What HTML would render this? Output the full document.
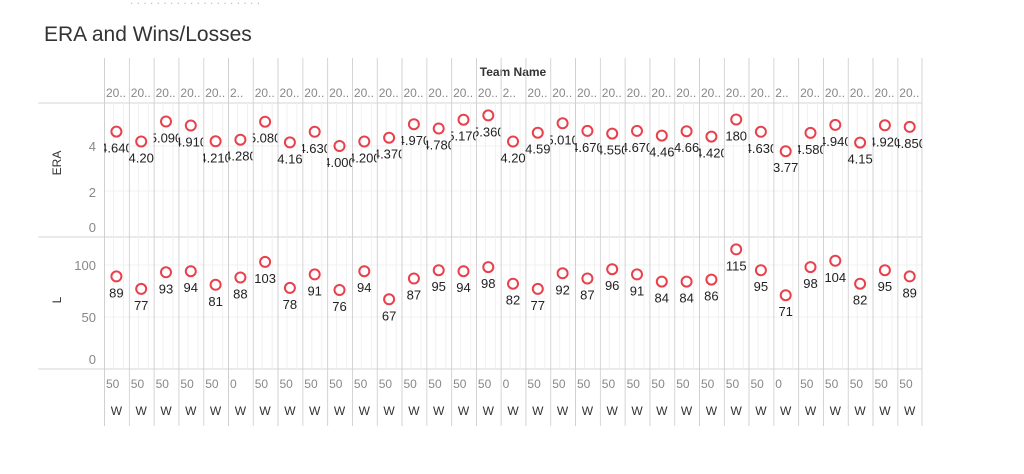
<!DOCTYPE html><html><head><style>body{margin:0;background:#fff}svg{display:block}</style></head><body>
<svg width="1024" height="474" xmlns="http://www.w3.org/2000/svg" font-family="Liberation Sans, sans-serif">
<text x="130" y="4" font-size="12" fill="#bbb">. . . . .  . .  . .  .  . . . .  . . .  . . .</text>
<text x="44" y="41" font-size="21" fill="#333">ERA and Wins/Losses</text>
<text x="513" y="76" font-size="12" font-weight="bold" fill="#333" text-anchor="middle">Team Name</text>
<g stroke="#f0f0f0"><line x1="104" y1="191" x2="922" y2="191"/><line x1="104" y1="146" x2="922" y2="146"/><line x1="104" y1="317" x2="922" y2="317"/><line x1="104" y1="265" x2="922" y2="265"/></g>
<g stroke="#d4d4d4"><line x1="38" y1="103" x2="922" y2="103"/><line x1="38" y1="237" x2="922" y2="237"/><line x1="38" y1="369" x2="922" y2="369"/><line x1="922" y1="58" x2="922" y2="426"/></g>
<text font-size="13" fill="#888" text-anchor="end"><tspan x="96" y="151">4</tspan><tspan x="96" y="197">2</tspan><tspan x="96" y="232">0</tspan><tspan x="96" y="270">100</tspan><tspan x="96" y="322">50</tspan><tspan x="96" y="364">0</tspan></text>
<text transform="translate(61,163) rotate(-90)" font-size="12" fill="#333" text-anchor="middle">ERA</text>
<text transform="translate(61,300) rotate(-90)" font-size="12" fill="#333" text-anchor="middle">L</text>
<defs><g id="c"><line x1="0.5" y1="58" x2="0.5" y2="426" stroke="#d0d0d0"/><line x1="9.5" y1="103" x2="9.5" y2="369" stroke="#f0f0f0"/><line x1="19.5" y1="103" x2="19.5" y2="369" stroke="#f0f0f0"/><text x="12.4" y="415" font-size="12" fill="#333" text-anchor="middle">W</text></g></defs>
<g font-size="13" fill="#222" text-anchor="middle">
<svg x="104" width="24.8" height="474"><use href="#c"/><text x="2" y="97" font-size="12" fill="#888" text-anchor="start">20..</text><text x="2" y="388" font-size="12" fill="#888" text-anchor="start">50</text><circle cx="12.4" cy="131.6" r="5" fill="none" stroke="#e8404d" stroke-width="2"/><text x="12.4" y="152.6">4.640</text><circle cx="12.4" cy="276.4" r="5" fill="none" stroke="#e8404d" stroke-width="2"/><text x="12.4" y="297.4">89</text></svg>
<svg x="128.8" width="24.8" height="474"><use href="#c"/><text x="2" y="97" font-size="12" fill="#888" text-anchor="start">20..</text><text x="2" y="388" font-size="12" fill="#888" text-anchor="start">50</text><circle cx="12.4" cy="141.5" r="5" fill="none" stroke="#e8404d" stroke-width="2"/><text x="12.4" y="162.5">4.20</text><circle cx="12.4" cy="288.9" r="5" fill="none" stroke="#e8404d" stroke-width="2"/><text x="12.4" y="309.9">77</text></svg>
<svg x="153.6" width="24.8" height="474"><use href="#c"/><text x="2" y="97" font-size="12" fill="#888" text-anchor="start">20..</text><text x="2" y="388" font-size="12" fill="#888" text-anchor="start">50</text><circle cx="12.4" cy="121.5" r="5" fill="none" stroke="#e8404d" stroke-width="2"/><text x="12.4" y="142.5">5.090</text><circle cx="12.4" cy="272.3" r="5" fill="none" stroke="#e8404d" stroke-width="2"/><text x="12.4" y="293.3">93</text></svg>
<svg x="178.4" width="24.8" height="474"><use href="#c"/><text x="2" y="97" font-size="12" fill="#888" text-anchor="start">20..</text><text x="2" y="388" font-size="12" fill="#888" text-anchor="start">50</text><circle cx="12.4" cy="125.5" r="5" fill="none" stroke="#e8404d" stroke-width="2"/><text x="12.4" y="146.5">4.910</text><circle cx="12.4" cy="271.2" r="5" fill="none" stroke="#e8404d" stroke-width="2"/><text x="12.4" y="292.2">94</text></svg>
<svg x="203.2" width="24.8" height="474"><use href="#c"/><text x="2" y="97" font-size="12" fill="#888" text-anchor="start">20..</text><text x="2" y="388" font-size="12" fill="#888" text-anchor="start">50</text><circle cx="12.4" cy="141.3" r="5" fill="none" stroke="#e8404d" stroke-width="2"/><text x="12.4" y="162.3">4.210</text><circle cx="12.4" cy="284.8" r="5" fill="none" stroke="#e8404d" stroke-width="2"/><text x="12.4" y="305.8">81</text></svg>
<svg x="228" width="24.8" height="474"><use href="#c"/><text x="2" y="97" font-size="12" fill="#888" text-anchor="start">2..</text><text x="2" y="388" font-size="12" fill="#888" text-anchor="start">0</text><circle cx="12.4" cy="139.7" r="5" fill="none" stroke="#e8404d" stroke-width="2"/><text x="12.4" y="160.7">4.280</text><circle cx="12.4" cy="277.5" r="5" fill="none" stroke="#e8404d" stroke-width="2"/><text x="12.4" y="298.5">88</text></svg>
<svg x="252.7" width="24.8" height="474"><use href="#c"/><text x="2" y="97" font-size="12" fill="#888" text-anchor="start">20..</text><text x="2" y="388" font-size="12" fill="#888" text-anchor="start">50</text><circle cx="12.4" cy="121.7" r="5" fill="none" stroke="#e8404d" stroke-width="2"/><text x="12.4" y="142.7">5.080</text><circle cx="12.4" cy="261.9" r="5" fill="none" stroke="#e8404d" stroke-width="2"/><text x="12.4" y="282.9">103</text></svg>
<svg x="277.5" width="24.8" height="474"><use href="#c"/><text x="2" y="97" font-size="12" fill="#888" text-anchor="start">20..</text><text x="2" y="388" font-size="12" fill="#888" text-anchor="start">50</text><circle cx="12.4" cy="142.4" r="5" fill="none" stroke="#e8404d" stroke-width="2"/><text x="12.4" y="163.4">4.16</text><circle cx="12.4" cy="287.9" r="5" fill="none" stroke="#e8404d" stroke-width="2"/><text x="12.4" y="308.9">78</text></svg>
<svg x="302.3" width="24.8" height="474"><use href="#c"/><text x="2" y="97" font-size="12" fill="#888" text-anchor="start">20..</text><text x="2" y="388" font-size="12" fill="#888" text-anchor="start">50</text><circle cx="12.4" cy="131.8" r="5" fill="none" stroke="#e8404d" stroke-width="2"/><text x="12.4" y="152.8">4.630</text><circle cx="12.4" cy="274.4" r="5" fill="none" stroke="#e8404d" stroke-width="2"/><text x="12.4" y="295.4">91</text></svg>
<svg x="327.1" width="24.8" height="474"><use href="#c"/><text x="2" y="97" font-size="12" fill="#888" text-anchor="start">20..</text><text x="2" y="388" font-size="12" fill="#888" text-anchor="start">50</text><circle cx="12.4" cy="146" r="5" fill="none" stroke="#e8404d" stroke-width="2"/><text x="12.4" y="167">4.000</text><circle cx="12.4" cy="290" r="5" fill="none" stroke="#e8404d" stroke-width="2"/><text x="12.4" y="311">76</text></svg>
<svg x="351.9" width="24.8" height="474"><use href="#c"/><text x="2" y="97" font-size="12" fill="#888" text-anchor="start">20..</text><text x="2" y="388" font-size="12" fill="#888" text-anchor="start">50</text><circle cx="12.4" cy="141.5" r="5" fill="none" stroke="#e8404d" stroke-width="2"/><text x="12.4" y="162.5">4.200</text><circle cx="12.4" cy="271.2" r="5" fill="none" stroke="#e8404d" stroke-width="2"/><text x="12.4" y="292.2">94</text></svg>
<svg x="376.7" width="24.8" height="474"><use href="#c"/><text x="2" y="97" font-size="12" fill="#888" text-anchor="start">20..</text><text x="2" y="388" font-size="12" fill="#888" text-anchor="start">50</text><circle cx="12.4" cy="137.7" r="5" fill="none" stroke="#e8404d" stroke-width="2"/><text x="12.4" y="158.7">4.370</text><circle cx="12.4" cy="299.3" r="5" fill="none" stroke="#e8404d" stroke-width="2"/><text x="12.4" y="320.3">67</text></svg>
<svg x="401.5" width="24.8" height="474"><use href="#c"/><text x="2" y="97" font-size="12" fill="#888" text-anchor="start">20..</text><text x="2" y="388" font-size="12" fill="#888" text-anchor="start">50</text><circle cx="12.4" cy="124.2" r="5" fill="none" stroke="#e8404d" stroke-width="2"/><text x="12.4" y="145.2">4.970</text><circle cx="12.4" cy="278.5" r="5" fill="none" stroke="#e8404d" stroke-width="2"/><text x="12.4" y="299.5">87</text></svg>
<svg x="426.3" width="24.8" height="474"><use href="#c"/><text x="2" y="97" font-size="12" fill="#888" text-anchor="start">20..</text><text x="2" y="388" font-size="12" fill="#888" text-anchor="start">50</text><circle cx="12.4" cy="128.5" r="5" fill="none" stroke="#e8404d" stroke-width="2"/><text x="12.4" y="149.5">4.780</text><circle cx="12.4" cy="270.2" r="5" fill="none" stroke="#e8404d" stroke-width="2"/><text x="12.4" y="291.2">95</text></svg>
<svg x="451.1" width="24.8" height="474"><use href="#c"/><text x="2" y="97" font-size="12" fill="#888" text-anchor="start">20..</text><text x="2" y="388" font-size="12" fill="#888" text-anchor="start">50</text><circle cx="12.4" cy="119.7" r="5" fill="none" stroke="#e8404d" stroke-width="2"/><text x="12.4" y="140.7">5.170</text><circle cx="12.4" cy="271.2" r="5" fill="none" stroke="#e8404d" stroke-width="2"/><text x="12.4" y="292.2">94</text></svg>
<svg x="475.9" width="24.8" height="474"><use href="#c"/><text x="2" y="97" font-size="12" fill="#888" text-anchor="start">20..</text><text x="2" y="388" font-size="12" fill="#888" text-anchor="start">50</text><circle cx="12.4" cy="115.4" r="5" fill="none" stroke="#e8404d" stroke-width="2"/><text x="12.4" y="136.4">5.360</text><circle cx="12.4" cy="267.1" r="5" fill="none" stroke="#e8404d" stroke-width="2"/><text x="12.4" y="288.1">98</text></svg>
<svg x="500.6" width="24.8" height="474"><use href="#c"/><text x="2" y="97" font-size="12" fill="#888" text-anchor="start">2..</text><text x="2" y="388" font-size="12" fill="#888" text-anchor="start">0</text><circle cx="12.4" cy="141.5" r="5" fill="none" stroke="#e8404d" stroke-width="2"/><text x="12.4" y="162.5">4.20</text><circle cx="12.4" cy="283.7" r="5" fill="none" stroke="#e8404d" stroke-width="2"/><text x="12.4" y="304.7">82</text></svg>
<svg x="525.4" width="24.8" height="474"><use href="#c"/><text x="2" y="97" font-size="12" fill="#888" text-anchor="start">20..</text><text x="2" y="388" font-size="12" fill="#888" text-anchor="start">50</text><circle cx="12.4" cy="132.7" r="5" fill="none" stroke="#e8404d" stroke-width="2"/><text x="12.4" y="153.7">4.59</text><circle cx="12.4" cy="288.9" r="5" fill="none" stroke="#e8404d" stroke-width="2"/><text x="12.4" y="309.9">77</text></svg>
<svg x="550.2" width="24.8" height="474"><use href="#c"/><text x="2" y="97" font-size="12" fill="#888" text-anchor="start">20..</text><text x="2" y="388" font-size="12" fill="#888" text-anchor="start">50</text><circle cx="12.4" cy="123.3" r="5" fill="none" stroke="#e8404d" stroke-width="2"/><text x="12.4" y="144.3">5.010</text><circle cx="12.4" cy="273.3" r="5" fill="none" stroke="#e8404d" stroke-width="2"/><text x="12.4" y="294.3">92</text></svg>
<svg x="575" width="24.8" height="474"><use href="#c"/><text x="2" y="97" font-size="12" fill="#888" text-anchor="start">20..</text><text x="2" y="388" font-size="12" fill="#888" text-anchor="start">50</text><circle cx="12.4" cy="130.9" r="5" fill="none" stroke="#e8404d" stroke-width="2"/><text x="12.4" y="151.9">4.670</text><circle cx="12.4" cy="278.5" r="5" fill="none" stroke="#e8404d" stroke-width="2"/><text x="12.4" y="299.5">87</text></svg>
<svg x="599.8" width="24.8" height="474"><use href="#c"/><text x="2" y="97" font-size="12" fill="#888" text-anchor="start">20..</text><text x="2" y="388" font-size="12" fill="#888" text-anchor="start">50</text><circle cx="12.4" cy="133.6" r="5" fill="none" stroke="#e8404d" stroke-width="2"/><text x="12.4" y="154.6">4.550</text><circle cx="12.4" cy="269.2" r="5" fill="none" stroke="#e8404d" stroke-width="2"/><text x="12.4" y="290.2">96</text></svg>
<svg x="624.6" width="24.8" height="474"><use href="#c"/><text x="2" y="97" font-size="12" fill="#888" text-anchor="start">20..</text><text x="2" y="388" font-size="12" fill="#888" text-anchor="start">50</text><circle cx="12.4" cy="130.9" r="5" fill="none" stroke="#e8404d" stroke-width="2"/><text x="12.4" y="151.9">4.670</text><circle cx="12.4" cy="274.4" r="5" fill="none" stroke="#e8404d" stroke-width="2"/><text x="12.4" y="295.4">91</text></svg>
<svg x="649.4" width="24.8" height="474"><use href="#c"/><text x="2" y="97" font-size="12" fill="#888" text-anchor="start">20..</text><text x="2" y="388" font-size="12" fill="#888" text-anchor="start">50</text><circle cx="12.4" cy="135.6" r="5" fill="none" stroke="#e8404d" stroke-width="2"/><text x="12.4" y="156.6">4.46</text><circle cx="12.4" cy="281.6" r="5" fill="none" stroke="#e8404d" stroke-width="2"/><text x="12.4" y="302.6">84</text></svg>
<svg x="674.2" width="24.8" height="474"><use href="#c"/><text x="2" y="97" font-size="12" fill="#888" text-anchor="start">20..</text><text x="2" y="388" font-size="12" fill="#888" text-anchor="start">50</text><circle cx="12.4" cy="131.2" r="5" fill="none" stroke="#e8404d" stroke-width="2"/><text x="12.4" y="152.2">4.66</text><circle cx="12.4" cy="281.6" r="5" fill="none" stroke="#e8404d" stroke-width="2"/><text x="12.4" y="302.6">84</text></svg>
<svg x="699" width="24.8" height="474"><use href="#c"/><text x="2" y="97" font-size="12" fill="#888" text-anchor="start">20..</text><text x="2" y="388" font-size="12" fill="#888" text-anchor="start">50</text><circle cx="12.4" cy="136.6" r="5" fill="none" stroke="#e8404d" stroke-width="2"/><text x="12.4" y="157.6">4.420</text><circle cx="12.4" cy="279.6" r="5" fill="none" stroke="#e8404d" stroke-width="2"/><text x="12.4" y="300.6">86</text></svg>
<svg x="723.8" width="24.8" height="474"><use href="#c"/><text x="2" y="97" font-size="12" fill="#888" text-anchor="start">20..</text><text x="2" y="388" font-size="12" fill="#888" text-anchor="start">50</text><circle cx="12.4" cy="119.5" r="5" fill="none" stroke="#e8404d" stroke-width="2"/><text x="12.4" y="140.5">180</text><circle cx="12.4" cy="249.4" r="5" fill="none" stroke="#e8404d" stroke-width="2"/><text x="12.4" y="270.4">115</text></svg>
<svg x="748.5" width="24.8" height="474"><use href="#c"/><text x="2" y="97" font-size="12" fill="#888" text-anchor="start">20..</text><text x="2" y="388" font-size="12" fill="#888" text-anchor="start">50</text><circle cx="12.4" cy="131.8" r="5" fill="none" stroke="#e8404d" stroke-width="2"/><text x="12.4" y="152.8">4.630</text><circle cx="12.4" cy="270.2" r="5" fill="none" stroke="#e8404d" stroke-width="2"/><text x="12.4" y="291.2">95</text></svg>
<svg x="773.3" width="24.8" height="474"><use href="#c"/><text x="2" y="97" font-size="12" fill="#888" text-anchor="start">2..</text><text x="2" y="388" font-size="12" fill="#888" text-anchor="start">0</text><circle cx="12.4" cy="151.2" r="5" fill="none" stroke="#e8404d" stroke-width="2"/><text x="12.4" y="172.2">3.77</text><circle cx="12.4" cy="295.2" r="5" fill="none" stroke="#e8404d" stroke-width="2"/><text x="12.4" y="316.2">71</text></svg>
<svg x="798.1" width="24.8" height="474"><use href="#c"/><text x="2" y="97" font-size="12" fill="#888" text-anchor="start">20..</text><text x="2" y="388" font-size="12" fill="#888" text-anchor="start">50</text><circle cx="12.4" cy="132.9" r="5" fill="none" stroke="#e8404d" stroke-width="2"/><text x="12.4" y="153.9">4.580</text><circle cx="12.4" cy="267.1" r="5" fill="none" stroke="#e8404d" stroke-width="2"/><text x="12.4" y="288.1">98</text></svg>
<svg x="822.9" width="24.8" height="474"><use href="#c"/><text x="2" y="97" font-size="12" fill="#888" text-anchor="start">20..</text><text x="2" y="388" font-size="12" fill="#888" text-anchor="start">50</text><circle cx="12.4" cy="124.9" r="5" fill="none" stroke="#e8404d" stroke-width="2"/><text x="12.4" y="145.9">4.940</text><circle cx="12.4" cy="260.8" r="5" fill="none" stroke="#e8404d" stroke-width="2"/><text x="12.4" y="281.8">104</text></svg>
<svg x="847.7" width="24.8" height="474"><use href="#c"/><text x="2" y="97" font-size="12" fill="#888" text-anchor="start">20..</text><text x="2" y="388" font-size="12" fill="#888" text-anchor="start">50</text><circle cx="12.4" cy="142.6" r="5" fill="none" stroke="#e8404d" stroke-width="2"/><text x="12.4" y="163.6">4.15</text><circle cx="12.4" cy="283.7" r="5" fill="none" stroke="#e8404d" stroke-width="2"/><text x="12.4" y="304.7">82</text></svg>
<svg x="872.5" width="24.8" height="474"><use href="#c"/><text x="2" y="97" font-size="12" fill="#888" text-anchor="start">20..</text><text x="2" y="388" font-size="12" fill="#888" text-anchor="start">50</text><circle cx="12.4" cy="125.3" r="5" fill="none" stroke="#e8404d" stroke-width="2"/><text x="12.4" y="146.3">4.920</text><circle cx="12.4" cy="270.2" r="5" fill="none" stroke="#e8404d" stroke-width="2"/><text x="12.4" y="291.2">95</text></svg>
<svg x="897.3" width="24.8" height="474"><use href="#c"/><text x="2" y="97" font-size="12" fill="#888" text-anchor="start">20..</text><text x="2" y="388" font-size="12" fill="#888" text-anchor="start">50</text><circle cx="12.4" cy="126.9" r="5" fill="none" stroke="#e8404d" stroke-width="2"/><text x="12.4" y="147.9">4.850</text><circle cx="12.4" cy="276.4" r="5" fill="none" stroke="#e8404d" stroke-width="2"/><text x="12.4" y="297.4">89</text></svg>
</g>
</svg>
</body></html>
